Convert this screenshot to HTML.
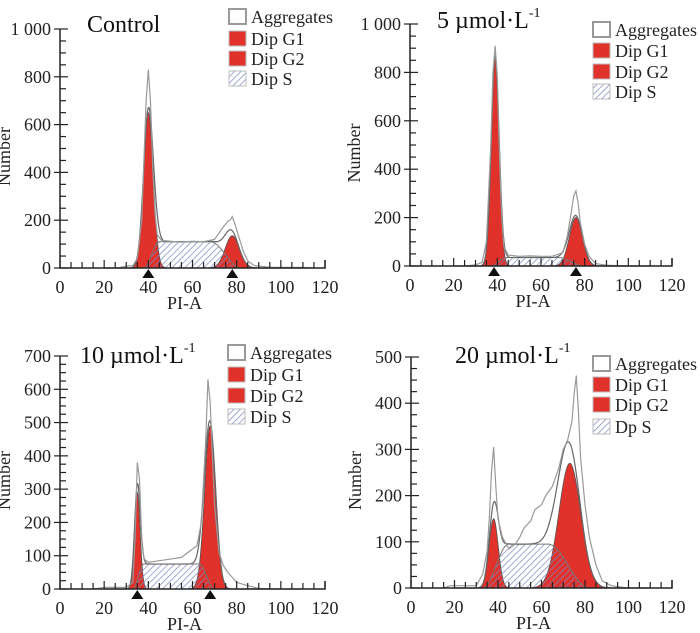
<!DOCTYPE html>
<html><head><meta charset="utf-8">
<style>
html,body{margin:0;padding:0;background:#fff;}
svg{display:block;font-family:"Liberation Serif",serif;}
</style></head>
<body>
<svg id="fig" width="700" height="633" viewBox="0 0 700 633" xmlns="http://www.w3.org/2000/svg">
<defs>
<pattern id="hatch" patternUnits="userSpaceOnUse" width="4.5" height="4.5" patternTransform="rotate(45)">
<rect width="4.5" height="4.5" fill="rgba(255,255,255,0)"/>
<line x1="0" y1="0" x2="0" y2="4.5" stroke="#7b86c0" stroke-width="1.4"/>
</pattern>
</defs>
</svg>
<script>
// ---------- data ----------
const panelTitles = ["Control", "5 µmol·L", "10 µmol·L", "20 µmol·L"];
const titleSup = ["", "-1", "-1", "-1"];
const yMaxes = [1000, 1000, 700, 500];
const yTickStep = [200, 200, 100, 100];
const xTicks = [0, 20, 40, 60, 80, 100, 120];
const legendLabels = [["Aggregates","Dip G1","Dip G2","Dip S"],["Aggregates","Dip G1","Dip G2","Dip S"],["Aggregates","Dip G1","Dip G2","Dip S"],["Aggregates","Dip G1","Dip G2","Dp S"]];
// G1 peak: center, height, sd
const g1Center = [40, 39, 35, 38];
const g1Height = [650, 860, 290, 150];
const g1Sd = [2.2, 1.8, 1.3, 2.1];
// G2 peak
const g2Center = [78, 76, 68, 73];
const g2Height = [135, 200, 490, 270];
const g2Sd = [3.2, 3.0, 2.5, 5.0];
// S phase: start, plateau start, plateau end, end, height
const sStart = [38, 37, 33, 33];
const sPlatStart = [45, 44, 38, 45];
const sPlatEnd = [68, 68, 63, 63];
const sEnd = [82, 80, 70, 82];
const sHeight = [110, 35, 75, 95];
// triangle markers (peak positions)
const markers = [[40, 78], [38.5, 76], [35, 68], []];
// raw histograms
const raw0 = [[26,0],[30,8],[33,10],[35,40],[37,200],[38,450],[39,700],[40,830],[41,690],[42,420],[43,230],[44,140],[46,115],[50,112],[55,108],[60,112],[65,110],[70,120],[73,160],[76,195],[77,200],[78,215],[79,190],[81,130],[83,70],[85,30],[88,10],[95,3],[110,2],[115,0]];
const raw1 = [[25,0],[30,5],[33,15],[35,100],[37,500],[38,800],[39,910],[40,780],[41,450],[42,200],[43,80],[45,45],[50,40],[55,42],[60,40],[65,40],[70,55],[72,120],[74,230],[75,290],[76,310],[77,260],[78,180],[80,90],[82,40],[85,10],[90,3],[100,0]];
const raw2 = [[15,0],[20,5],[30,5],[33,20],[34,150],[35,380],[36,330],[37,150],[38,90],[40,80],[45,85],[50,90],[55,95],[58,110],[60,120],[62,130],[64,200],[66,450],[67,630],[68,560],[69,400],[70,250],[72,110],[74,70],[76,50],[80,20],[85,10],[90,2],[95,0]];
const raw3 = [[15,0],[18,5],[25,5],[30,5],[33,30],[35,80],[36,150],[37,250],[38,305],[39,220],[40,150],[42,110],[45,85],[48,95],[50,110],[52,130],[55,145],[57,170],[60,180],[62,200],[65,220],[68,260],[70,300],[72,320],[74,360],[75,420],[76,460],[77,380],[78,280],[80,180],[82,110],[85,50],[88,15],[92,5],[100,0]];
const raws = [raw0, raw1, raw2, raw3];

// ---------- layout ----------
const frames = [
 {x0:60, x1:325, y0:268, yTop:29, legX:229, legY:[17,39,59,79], tX:87, tY:32},
 {x0:410, x1:672, y0:266, yTop:24, legX:593, legY:[30,51,72,92], tX:437, tY:28},
 {x0:60, x1:325, y0:589, yTop:356, legX:228, legY:[353,375,396,417], tX:80, tY:363},
 {x0:411, x1:672, y0:588, yTop:357, legX:593, legY:[364,385,405,427], tX:455, tY:363}
];
const svg = document.getElementById('fig');
const NS = "http://www.w3.org/2000/svg";
function mk(tag, attrs, parent){
  const e = document.createElementNS(NS, tag);
  for (const k in attrs) e.setAttribute(k, attrs[k]);
  (parent||svg).appendChild(e); return e;
}
function gauss(x,c,h,s){return h*Math.exp(-0.5*((x-c)/s)**2);}
function sPhase(i,x){
  if (x<=sStart[i]||x>=sEnd[i]) return 0;
  if (x<sPlatStart[i]) return sHeight[i]*(0.5-0.5*Math.cos(Math.PI*(x-sStart[i])/(sPlatStart[i]-sStart[i])));
  if (x>sPlatEnd[i]) return sHeight[i]*(0.5+0.5*Math.cos(Math.PI*(x-sPlatEnd[i])/(sEnd[i]-sPlatEnd[i])));
  return sHeight[i];
}

for (let i=0;i<4;i++){
  const f = frames[i];
  const X = v => f.x0 + (v/120)*(f.x1-f.x0);
  const Y = v => f.y0 - (v/yMaxes[i])*(f.y0-f.yTop);
  const g = mk('g', {});
  
  

  const xs=[]; for(let x=20;x<=110;x+=0.25) xs.push(x);
  const areaPath = fn => {
    let d='M'+X(xs[0])+','+Y(0);
    xs.forEach(x=>{d+=' L'+X(x).toFixed(2)+','+Y(fn(x)).toFixed(2);});
    return d+' L'+X(xs[xs.length-1])+','+Y(0)+' Z';
  };
  const linePath = fn => 'M'+xs.map(x=>X(x).toFixed(2)+','+Y(fn(x)).toFixed(2)).join(' L');
  const g1 = mk('path',{d:areaPath(x=>gauss(x,g1Center[i],g1Height[i],g1Sd[i])),fill:'#e0312b',stroke:'#555','stroke-width':0.8},g);
  
  
  const g2 = mk('path',{d:areaPath(x=>gauss(x,g2Center[i],g2Height[i],g2Sd[i])),fill:'#e0312b',stroke:'#555','stroke-width':0.8},g);
  
  
  const s = mk('path',{d:areaPath(x=>sPhase(i,x)),fill:'url(#hatch)',stroke:'#777','stroke-width':1},g);
  
  
  const fit = mk('path',{d:linePath(x=>gauss(x,g1Center[i],g1Height[i],g1Sd[i])+gauss(x,g2Center[i],g2Height[i],g2Sd[i])+sPhase(i,x)),fill:'none',stroke:'#666','stroke-width':1.2},g);
  
  
  const r = raws[i];
  const raw = mk('path',{d:'M'+r.map(p=>X(p[0]).toFixed(2)+','+Y(p[1]).toFixed(2)).join(' L'),fill:'none',stroke:'#999','stroke-width':1.2},g);
  
  

  const ax = mk('path',{d:`M${f.x0},${f.yTop} L${f.x0},${f.y0} L${f.x1},${f.y0} L${f.x1},${f.y0-8}`,fill:'none',stroke:'#222','stroke-width':1.5},g);
  
  
  for(let v=0; v<=120; v+=5){
    mk('line',{x1:X(v),x2:X(v),y1:f.y0,y2:f.y0-(v%20===0?8:6),stroke:'#222','stroke-width':1.2},g);
  }
  xTicks.forEach(v=>{
    const t=mk('text',{x:X(v),y:f.y0+25,'text-anchor':'middle','font-size':18,fill:'#222'},g);
    t.textContent=v;
    
    
  });
  for(let v=0; v<=yMaxes[i]; v+=yTickStep[i]/4){
    const major = Math.abs(v % yTickStep[i])<1e-6;
    mk('line',{x1:major?f.x0-6:f.x0,x2:f.x0+(major?8:6),y1:Y(v),y2:Y(v),stroke:'#222','stroke-width':1.2},g);
    if(major){
      const t=mk('text',{x:f.x0-9,y:Y(v)+6,'text-anchor':'end','font-size':18,fill:'#222'},g);
      t.textContent = v>=1000 ? '1 000' : v;
      
      
    }
  }
  const xl=mk('text',{x:(f.x0+f.x1)/2-8,y:f.y0+41,'text-anchor':'middle','font-size':18,fill:'#222'},g);
  xl.textContent='PI-A';
  
  
  const yc=(f.y0+f.yTop)/2+8;
  const yl=mk('text',{x:f.x0-50,y:yc,'text-anchor':'middle','font-size':18,fill:'#222',transform:`rotate(-90 ${f.x0-50} ${yc})`},g);
  yl.textContent='Number';
  
  

  markers[i].forEach(m=>{
    const tr=mk('path',{d:`M${X(m)-6},${f.y0+10} L${X(m)+6},${f.y0+10} L${X(m)},${f.y0+1} Z`,fill:'#111'},g);
    
    
  });

  const tt=mk('text',{x:f.tX,y:f.tY,'font-size':24,fill:'#111'},g);
  tt.textContent=panelTitles[i];
  
  
  if(titleSup[i]){
    const sp=mk('tspan',{dy:-11,'font-size':14},tt);
    sp.textContent=titleSup[i];
  }

  legendLabels[i].forEach((lab,k)=>{
    const cy=f.legY[k];
    const fill = k===0 ? '#fff' : (k===3 ? 'url(#hatch)' : '#e0312b');
    const b=mk('rect',{x:f.legX,y:cy-8,width:17,height:15,fill:fill,stroke:k===0?'#999':'#bbb','stroke-width':k===0?2:1},g);
    
    
    const t=mk('text',{x:f.legX+22,y:cy+6,'font-size':18,fill:'#222'},g);
    t.textContent=lab;
    
    
  });
}
</script>
</body></html>
